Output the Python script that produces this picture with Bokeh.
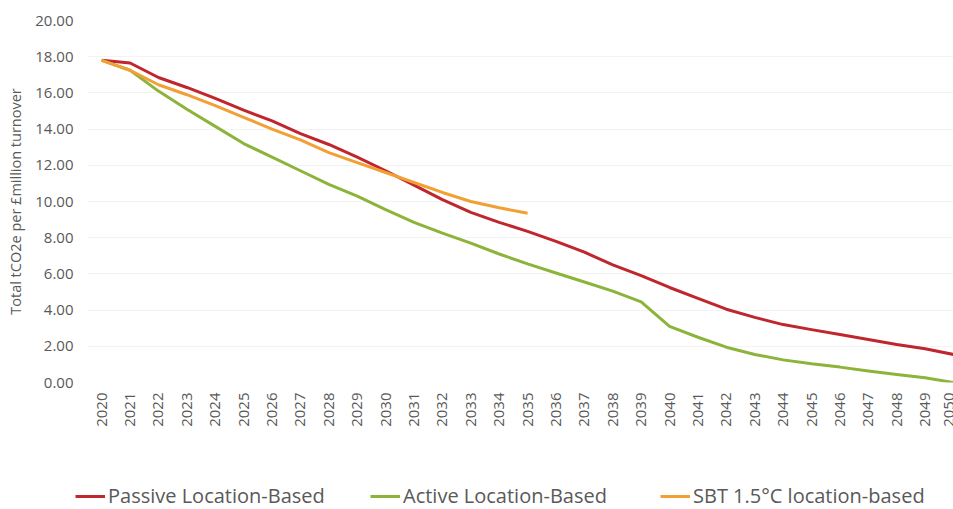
from bokeh.plotting import figure
from bokeh.models import (Range1d, FixedTicker, NumeralTickFormatter, Legend, LegendItem)
from bokeh.layouts import column
from bokeh.embed import file_html
from bokeh.resources import INLINE
import math

years = list(range(2020, 2051))
passive = [17.8, 17.65, 16.85, 16.3, 15.7, 15.05, 14.45, 13.75, 13.15, 12.45,
           11.7, 10.9, 10.1, 9.4, 8.85, 8.35, 7.8, 7.2, 6.5, 5.9,
           5.25, 4.65, 4.05, 3.6, 3.2, 2.92, 2.65, 2.38, 2.1, 1.86, 1.55]
active = [17.8, 17.25, 16.1, 15.1, 14.15, 13.2, 12.45, 11.7, 10.95, 10.3,
          9.55, 8.85, 8.25, 7.7, 7.1, 6.55, 6.05, 5.55, 5.05, 4.45,
          3.1, 2.5, 1.95, 1.55, 1.25, 1.03, 0.85, 0.63, 0.44, 0.26, 0.0]
sbt_years = list(range(2020, 2036))
sbt = [17.8, 17.25, 16.45, 15.9, 15.3, 14.65, 14.0, 13.4, 12.7, 12.15,
       11.6, 11.05, 10.5, 10.0, 9.65, 9.35]

y_ticks = [0, 2, 4, 6, 8, 10, 12, 14, 16, 18, 20]
series_names = ["Passive Location-Based", "Active Location-Based", "SBT 1.5\u00b0C location-based"]
colors = ["#C0262E", "#8CB43A", "#F2A033"]

FONT = "Open Sans"
GRAY = "#595959"

p = figure(width=953, height=470, output_backend="svg", toolbar_location=None,
           x_range=Range1d(2019.5, 2050.0), y_range=Range1d(0, 20),
           min_border_left=87, min_border_right=0, min_border_top=20, min_border_bottom=88)
p.outline_line_color = None
p.frame_align = False

r1 = p.line(years, passive, line_color=colors[0], line_width=3, line_join="round")
r2 = p.line(years, active, line_color=colors[1], line_width=3, line_join="round")
r3 = p.line(sbt_years, sbt, line_color=colors[2], line_width=3, line_join="round")

# axes
p.xaxis.ticker = FixedTicker(ticks=years)
p.xaxis.major_label_orientation = math.pi / 2
p.xaxis.major_label_text_font = FONT
p.xaxis.major_label_text_font_size = "15px"
p.xaxis.major_label_text_color = GRAY
p.xaxis.major_label_standoff = 10
p.xaxis.major_tick_out = 0
p.xaxis.axis_line_color = None
p.xaxis.major_tick_line_color = None
p.xaxis.minor_tick_line_color = None

p.yaxis.ticker = FixedTicker(ticks=y_ticks)
p.yaxis.formatter = NumeralTickFormatter(format="0.00")
p.yaxis.major_label_text_font = FONT
p.yaxis.major_label_text_font_size = "15px"
p.yaxis.major_label_text_color = GRAY
p.yaxis.major_label_standoff = 14
p.yaxis.major_tick_out = 0
p.yaxis.axis_line_color = None
p.yaxis.major_tick_line_color = None
p.yaxis.minor_tick_line_color = None
p.yaxis.axis_label = "Total tCO2e per \u00a3million turnover"
p.yaxis.axis_label_text_font = FONT
p.yaxis.axis_label_text_font_size = "14.5px"
p.yaxis.axis_label_text_font_style = "normal"
p.yaxis.axis_label_text_color = GRAY
p.yaxis.axis_label_standoff = 7

p.xgrid.grid_line_color = None
p.ygrid.grid_line_color = "#f3f3f3"
p.ygrid.grid_line_width = 1

# legend strip below the chart (series drawn off-range so only legend samples show)
lg_fig = figure(width=953, height=39, output_backend="svg", toolbar_location=None,
                x_axis_type=None, y_axis_type=None,
                x_range=Range1d(0, 1), y_range=Range1d(0, 1),
                min_border=0)
lg_fig.outline_line_color = None
lg_fig.grid.grid_line_color = None
lg_fig.frame_align = False

positions = [75, 370, 660]
series_x = [years, years, sbt_years]
series_y = [passive, active, sbt]
for name, col, xpos, xs, ys in zip(series_names, colors, positions, series_x, series_y):
    rr = lg_fig.line(x=xs, y=ys, line_color=col, line_width=3)
    lg = Legend(items=[LegendItem(label=name, renderers=[rr])],
                location=(xpos, 0), orientation="horizontal",
                padding=0, margin=0, spacing=0,
                glyph_width=30, glyph_height=24, label_height=24,
                label_standoff=3,
                label_text_font=FONT, label_text_font_size="20px",
                label_text_color=GRAY,
                background_fill_alpha=0, border_line_alpha=0)
    lg_fig.add_layout(lg, "center")

layout = column(p, lg_fig, spacing=0)
open("out.html", "w").write(file_html(layout, INLINE))
